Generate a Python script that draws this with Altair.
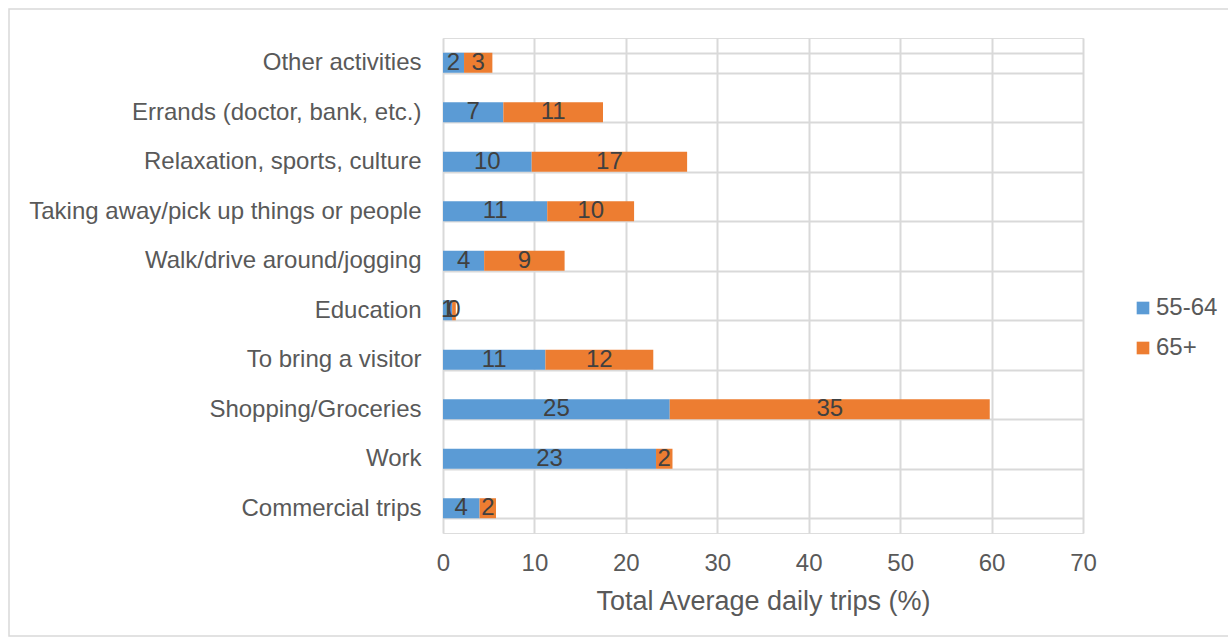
import altair as alt
import pandas as pd

categories = ["Other activities", "Errands (doctor, bank, etc.)", "Relaxation, sports, culture",
              "Taking away/pick up things or people", "Walk/drive around/jogging", "Education",
              "To bring a visitor", "Shopping/Groceries", "Work", "Commercial trips"]
age_55_64 = [2.3, 6.6, 9.7, 11.4, 4.5, 1.0, 11.2, 24.8, 23.3, 4.0]
age_65_plus = [3.1, 10.9, 17.0, 9.5, 8.8, 0.4, 11.8, 35.0, 1.8, 1.8]
series = ["55-64", "65+"]
colors = ["#5b9bd5", "#ed7d31"]
x_ticks = [0, 10, 20, 30, 40, 50, 60, 70]

rows = []
for i, c in enumerate(categories):
    a, b = age_55_64[i], age_65_plus[i]
    rows.append({"cat": c, "series": "55-64", "start": 0, "end": a, "mid": a / 2,
                 "label": str(int(round(a))), "ord": 0})
    rows.append({"cat": c, "series": "65+", "start": a, "end": a + b, "mid": a + b / 2,
                 "label": str(int(round(b))), "ord": 1})
df = pd.DataFrame(rows)

FONT = "Liberation Sans"
GRAY = "#595959"

y_enc = alt.Y("cat:N", sort=categories, title=None,
              scale=alt.Scale(paddingInner=0.6, paddingOuter=0.3),
              axis=alt.Axis(grid=True, tickBand="extent", ticks=False, domain=False,
                            labelFontSize=24, labelColor=GRAY, labelFont=FONT,
                            labelPadding=22, gridColor="#d9d9d9", gridWidth=2,
                            labelLimit=600))
x_scale = alt.Scale(domain=[0, 70], nice=False)

bars = alt.Chart(df).mark_bar(size=20).encode(
    x=alt.X("start:Q", scale=x_scale, title="Total Average daily trips (%)",
            axis=alt.Axis(values=x_ticks, grid=True, gridColor="#d9d9d9", gridWidth=2,
                          ticks=False, domain=False, labelFontSize=24, labelColor=GRAY,
                          labelFont=FONT, labelPadding=18, labelFlush=False,
                          titleFontSize=27,
                          titleColor=GRAY, titleFont=FONT, titleFontWeight="normal",
                          titlePadding=13)),
    x2="end:Q",
    y=y_enc,
    color=alt.Color("series:N", scale=alt.Scale(domain=series, range=colors),
                    legend=alt.Legend(title=None, orient="none", legendX=688, legendY=258,
                                      symbolType="square", symbolSize=160,
                                      symbolStrokeWidth=0,
                                      labelFontSize=24, labelColor=GRAY,
                                      labelFont=FONT, rowPadding=16, labelOffset=1)),
    order="ord:Q",
)

texts = alt.Chart(df).mark_text(fontSize=24, color="#404040", font=FONT).encode(
    x=alt.X("mid:Q", scale=x_scale),
    y=alt.Y("cat:N", sort=categories),
    text="label:N",
)

border = alt.Chart(pd.DataFrame({"a": [0]})).mark_rect(
    fill=None, stroke="#d9d9d9", strokeWidth=1.5).encode(
    x=alt.value(-434), x2=alt.value(790), y=alt.value(-29), y2=alt.value(598))

chart = alt.layer(border, bars, texts).properties(
    width=640, height=495,
    autosize=alt.AutoSizeParams(type="none"),
    padding={"left": 443, "top": 38, "right": 145, "bottom": 105},
).configure_view(stroke="#d9d9d9", strokeWidth=2).configure(background="white")

chart.save("out.html", embed_options={"renderer": "svg", "actions": False})
